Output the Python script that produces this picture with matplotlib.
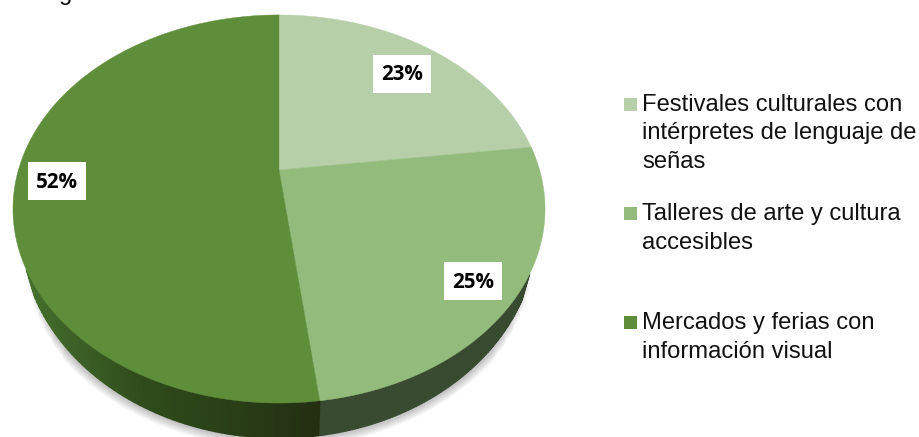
import numpy as np
import matplotlib

matplotlib.use("Agg")
import matplotlib.pyplot as plt
from matplotlib.patches import Rectangle

# chart data
categories = [
    "Festivales culturales con\nintérpretes de lenguaje de\nseñas",
    "Talleres de arte y cultura\naccesibles",
    "Mercados y ferias con\ninformación visual",
]
percentages = [23, 25, 52]

face_colors = ["#B7CFA9", "#93BC7C", "#5E8E3A"]
label_centers = [(402, 74), (473, 281), (57, 181)]
legend_rows = [104.5, 213.5, 322.5]

# geometry of the tilted disc, in pixels
HUB_X, HUB_Y = 279, 170
SCALE_X, SCALE_Y = 260.6, 186.2
TILT = 0.201


def project(theta):
    # theta runs clockwise from 12 o'clock, far side of the disc gets smaller
    w = 1 + TILT * np.cos(theta)
    return HUB_X + SCALE_X * np.sin(theta) / w, HUB_Y - SCALE_Y * np.cos(theta) / w


def lower_rim(x, y):
    # underside of the disc, a slightly narrower and deeper ellipse
    return HUB_X + (x - HUB_X) * 258 / 266, 230 + (y - 209) * 208 / 194


def wall_color(slice_index, x):
    if slice_index == 1:
        return "#384A30"
    if slice_index == 0:
        return "#4A5E40"
    xs = [13, 60, 150, 250, 319]
    r = np.interp(x, xs, [72, 62, 46, 40, 36]) / 255
    g = np.interp(x, xs, [116, 100, 74, 60, 47]) / 255
    b = np.interp(x, xs, [46, 40, 26, 22, 17]) / 255
    return (r, g, b)


fig = plt.figure(figsize=(9.2, 4.37), dpi=100)
ax = fig.add_axes([0, 0, 1, 1])
ax.set_xlim(0, 920)
ax.set_ylim(437, 0)
ax.axis("off")

edges = 2 * np.pi * np.cumsum([0] + percentages) / sum(percentages)

# soft shadow under the disc, wider strokes stop earlier so the ends taper off
rim = np.linspace(np.pi / 2, 3 * np.pi / 2, 400)
for width in np.arange(2, 16, 2):
    arc = rim[np.cos(rim) < -(0.36 + width * 0.025)]
    shadow_x, shadow_y = lower_rim(*project(arc))
    ax.plot(shadow_x, shadow_y, color="#000000", lw=width, alpha=0.04,
            solid_capstyle="round", zorder=1)

# side wall, built from narrow quads so it can carry a gradient
for i in range(len(percentages)):
    steps = np.linspace(edges[i], edges[i + 1], 160)
    xs, ys = project(steps)
    low_x, low_y = lower_rim(xs, ys)
    for j in range(len(steps) - 1):
        # the back of the wall is hidden behind the top face
        if np.cos(steps[j]) > -0.5:
            continue
        color = wall_color(i, xs[j])
        ax.fill([xs[j], xs[j + 1], low_x[j + 1], low_x[j]],
                [ys[j], ys[j + 1], low_y[j + 1], low_y[j]],
                facecolor=color, edgecolor=color, lw=1, zorder=2)

# top face
for i, color in enumerate(face_colors):
    xs, ys = project(np.linspace(edges[i], edges[i + 1], 200))
    ax.fill(np.r_[HUB_X, xs], np.r_[HUB_Y, ys], facecolor=color, edgecolor=color,
            lw=0.3, zorder=3)

# value labels on white boxes
for value, (x, y) in zip(percentages, label_centers):
    ax.add_patch(Rectangle((x - 29, y - 19), 58, 38, facecolor="white", edgecolor="none", zorder=4))
    ax.text(x, y + 1, f"{value}%", ha="center", va="center", fontsize=14.8, fontweight="bold",
            family="Open Sans", color="black", zorder=5)

# legend
for label, color, first_y in zip(categories, face_colors, legend_rows):
    mid_y = first_y + 1 + label.count("\n") * 13.85
    ax.add_patch(Rectangle((624, first_y - 6.5), 13, 13, facecolor=color, edgecolor="none"))
    ax.text(642, mid_y, label, ha="left", va="center", fontsize=17.1,
            family="Liberation Sans", color="#111111", linespacing=1.39)

# descender of the caption line above the chart
ax.text(66, -6, "g", ha="center", va="center", fontsize=17, family="Liberation Sans", color="#111111")

fig.savefig("out.png", dpi=100)
